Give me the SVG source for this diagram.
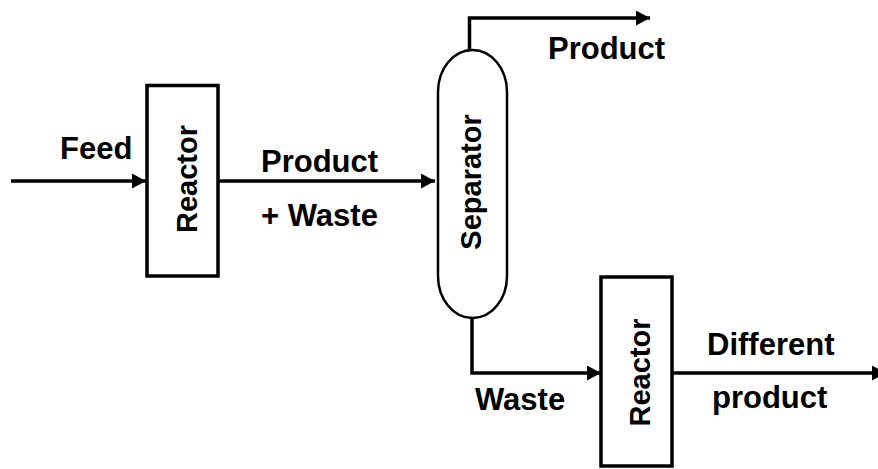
<svg xmlns="http://www.w3.org/2000/svg" width="878" height="469" viewBox="0 0 878 469">
<style>
.lbl{font-family:"Liberation Sans",Arial,sans-serif;font-weight:bold;font-size:31px;fill:#000}
.rot{font-family:"Liberation Sans",Arial,sans-serif;font-weight:bold;font-size:29px;fill:#000;text-anchor:middle}
.box{fill:#fff;stroke:#000;stroke-width:3.5}
.sep{fill:#fff;stroke:#000;stroke-width:2.5}
.con{fill:none;stroke:#000;stroke-width:3.5;marker-end:url(#ah)}
</style>
<defs>
<marker id="ah" viewBox="0 0 14 15" refX="14" refY="7.5" markerWidth="14" markerHeight="15" markerUnits="userSpaceOnUse" orient="auto">
<polygon points="0,0 14,7.5 0,15" fill="#000"/>
</marker>
</defs>
<rect width="878" height="469" fill="#fff"/>
<g id="connectors">
<path class="con" d="M11,181 H146"/>
<path class="con" d="M218,181 H435"/>
<path class="con" d="M469.5,50 V18 H650"/>
<path class="con" d="M472,318 V373 H601"/>
<path class="con" d="M672,373 H886"/>
</g>
<g id="reactor1">
<rect class="box" x="147" y="85.5" width="71" height="190.5"/>
<text class="rot" transform="translate(197,179) rotate(-90)">Reactor</text>
</g>
<g id="separator">
<rect class="sep" x="438" y="50" width="69" height="268" rx="34.5" ry="42"/>
<text class="rot" transform="translate(481,182) rotate(-90)">Separator</text>
</g>
<g id="reactor2">
<rect class="box" x="601" y="277" width="71" height="189"/>
<text class="rot" transform="translate(650,372.5) rotate(-90)">Reactor</text>
</g>
<g id="labels">
<text class="lbl" x="60" y="159">Feed</text>
<text class="lbl" x="261" y="172">Product</text>
<text class="lbl" x="261" y="226">+ Waste</text>
<text class="lbl" x="548" y="59">Product</text>
<text class="lbl" x="475" y="410">Waste</text>
<text class="lbl" x="707" y="355">Different</text>
<text class="lbl" x="712" y="408">product</text>
</g>
</svg>
